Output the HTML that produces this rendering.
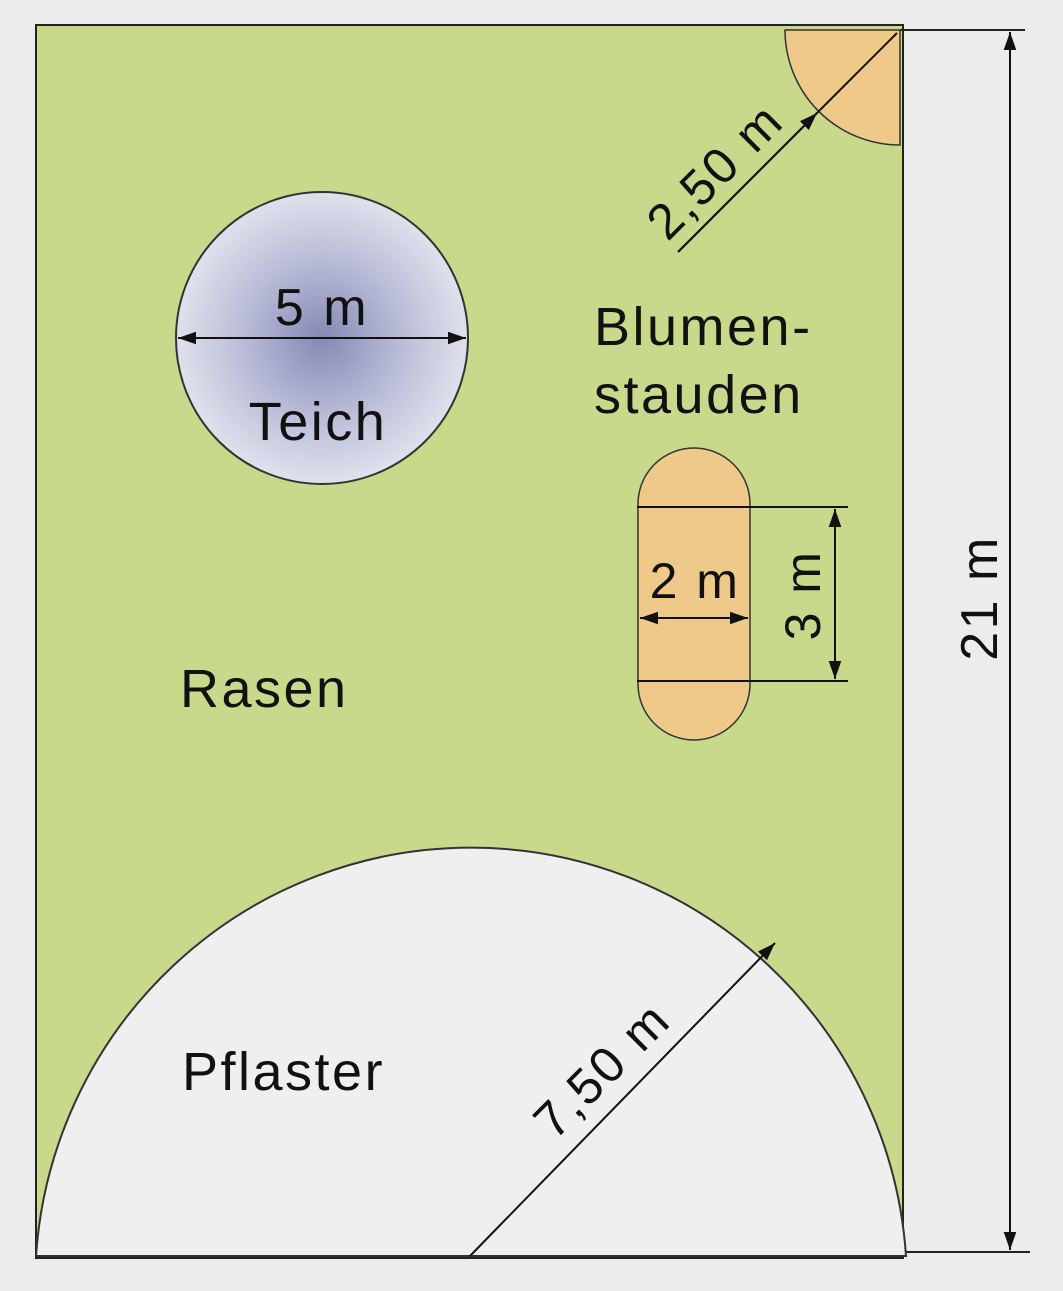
<!DOCTYPE html>
<html><head><meta charset="utf-8"><style>
html,body{margin:0;padding:0;background:#ececec;}
svg{display:block;font-family:"Liberation Sans",sans-serif;}
text{letter-spacing:2.5px;}
</style></head><body>
<svg width="1063" height="1291" viewBox="0 0 1063 1291">
<defs>
<radialGradient id="pond" cx="0.5" cy="0.5" r="0.5">
<stop offset="0" stop-color="#8589b5"/><stop offset="0.55" stop-color="#babdd8"/><stop offset="1" stop-color="#e0e1ec"/>
</radialGradient>
<marker id="ar" viewBox="0 0 10 10" refX="10" refY="5" markerWidth="9" markerHeight="9" orient="auto-start-reverse"><path d="M0,1.5 L10,5 L0,8.5 z" fill="#111"/></marker>
</defs>
<rect x="0" y="0" width="1063" height="1291" fill="#ececec"/>
<rect x="36" y="25" width="867" height="1233" fill="#c8d98b" stroke="#222" stroke-width="2"/>
<line x1="900" y1="30" x2="1025" y2="30" stroke="#222" stroke-width="2"/>
<line x1="36" y1="1252" x2="1030" y2="1252" stroke="#222" stroke-width="2"/>
<line x1="1010" y1="32" x2="1010" y2="1250" stroke="#111" stroke-width="2" marker-start="url(#ar)" marker-end="url(#ar)"/>
<text transform="translate(997,598) rotate(-90)" text-anchor="middle" font-size="52" fill="#111">21 m</text>
<path d="M785,30 A115,115 0 0 0 900,145 L900,30 Z" fill="#efc98a" stroke="#333" stroke-width="1.5"/>
<line x1="678" y1="252" x2="897" y2="33" stroke="#111" stroke-width="2"/>
<line x1="678" y1="252" x2="817" y2="113" stroke="#111" stroke-width="2" marker-end="url(#ar)"/>
<text transform="translate(727,183) rotate(-45)" text-anchor="middle" font-size="50" fill="#111">2,50 m</text>
<circle cx="322" cy="338" r="146" fill="url(#pond)" stroke="#333" stroke-width="2"/>
<line x1="178" y1="338" x2="466" y2="338" stroke="#111" stroke-width="2" marker-start="url(#ar)" marker-end="url(#ar)"/>
<text x="322" y="325" text-anchor="middle" font-size="52" fill="#111">5 m</text>
<text x="318" y="440" text-anchor="middle" font-size="54" fill="#111">Teich</text>
<text x="594" y="345" font-size="54" fill="#111">Blumen-</text>
<text x="594" y="413" font-size="54" fill="#111">stauden</text>
<rect x="638" y="448" width="112" height="292" rx="56" ry="56" fill="#efc98a" stroke="#333" stroke-width="1.5"/>
<line x1="637" y1="507" x2="848" y2="507" stroke="#111" stroke-width="2"/>
<line x1="637" y1="681" x2="848" y2="681" stroke="#111" stroke-width="2"/>
<line x1="835" y1="509" x2="835" y2="679" stroke="#111" stroke-width="2" marker-start="url(#ar)" marker-end="url(#ar)"/>
<text transform="translate(820,595) rotate(-90)" text-anchor="middle" font-size="50" fill="#111">3 m</text>
<line x1="640" y1="618" x2="748" y2="618" stroke="#111" stroke-width="2" marker-start="url(#ar)" marker-end="url(#ar)"/>
<text x="695" y="598" text-anchor="middle" font-size="50" fill="#111">2 m</text>
<text x="180" y="707" font-size="54" fill="#111">Rasen</text>
<path d="M36,1256 A436,438 0 0 1 906,1256 Z" fill="#efefef" stroke="#333" stroke-width="2"/>
<line x1="470" y1="1256" x2="775" y2="943" stroke="#111" stroke-width="2" marker-end="url(#ar)"/>
<text transform="translate(614,1082) rotate(-45)" text-anchor="middle" font-size="50" fill="#111">7,50 m</text>
<text x="182" y="1090" font-size="54" fill="#111">Pflaster</text>
</svg>
</body></html>
